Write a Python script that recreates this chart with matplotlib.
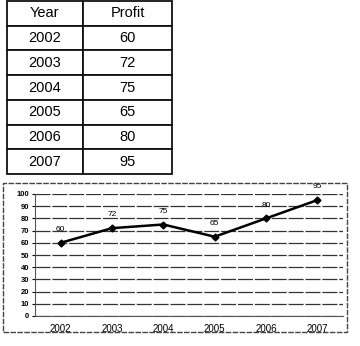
import matplotlib.pyplot as plt
from matplotlib.patches import Rectangle

## data
years = ["2002", "2003", "2004", "2005", "2006", "2007"]
profit = [60, 72, 75, 65, 80, 95]
yticks = list(range(0, 101, 10))

plt.rcParams['font.family'] = ['Liberation Sans', 'DejaVu Sans']

fig = plt.figure(figsize=(3.6, 3.46), dpi=100)

## table on top
ax_t = fig.add_axes([0.019, 0.497, 0.459, 0.500])
ax_t.axis("off")
cells = [[y, str(p)] for y, p in zip(years, profit)]
tab = ax_t.table(cellText=cells, colLabels=["Year", "Profit"],
                 cellLoc="center", bbox=[0, 0, 1, 1],
                 colWidths=[0.46, 0.54])
tab.auto_set_font_size(False)
for (r, c), cell in tab.get_celld().items():
    cell.set_fontsize(10.5)
    cell.set_linewidth(1.3)
    cell.set_edgecolor("#111111")

## outer frame of the chart
fig.patches.append(Rectangle((3/360, 1-332/346), 344/360, 149/346,
                             transform=fig.transFigure, fill=False,
                             edgecolor="#444444", lw=1, ls=(0, (4, 1))))

## line chart
ax = fig.add_axes([35/360, 1-316/346, 308/360, 122/346])
x = list(range(len(years)))
ax.plot(x, profit, color="black", lw=1.8, marker="D", markersize=3.5)
for xi, p in zip(x, profit):
    ax.annotate(str(p), (xi, p), xytext=(0, 7), textcoords="offset points",
                ha="center", va="bottom", fontsize=6)
ax.set_xlim(-0.5, len(years) - 0.5)
ax.set_ylim(0, 100)
ax.set_yticks(yticks)
ax.set_yticklabels([str(t) for t in yticks], fontsize=5.5, fontweight="bold")
ax.set_xticks(x)
ax.set_xticklabels(years, fontsize=7)
ax.tick_params(axis="x", length=0, pad=6)
ax.tick_params(axis="y", length=2, pad=2)
ax.grid(axis="y", color="#333333", lw=0.9, ls=(0, (12, 1.5)))
ax.set_axisbelow(True)
for s in ["top", "right"]:
    ax.spines[s].set_visible(False)
ax.spines["left"].set_color("#555555")
ax.spines["bottom"].set_color("#555555")

fig.savefig("out.png", dpi=100)
